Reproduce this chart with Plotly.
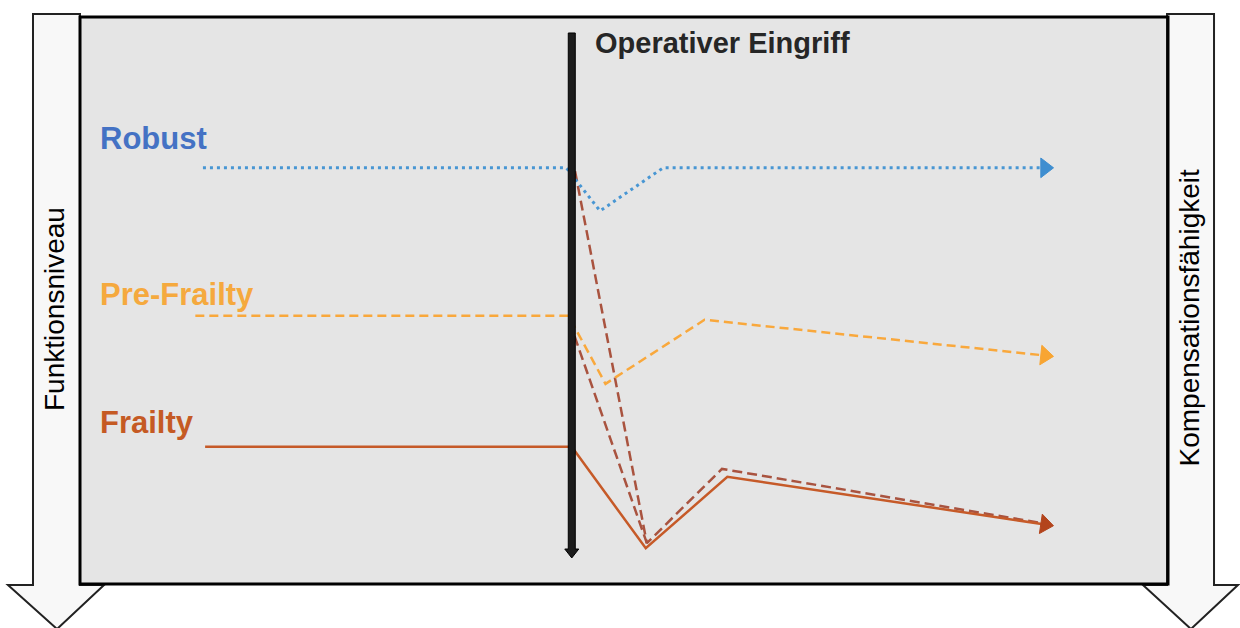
import plotly.graph_objects as go

# Time axis (0-100 across the panel) and functional level (0-100, bottom to top)
SURGERY = 45.2

robust_t = [11.3, 44.7, 47.8, 53.6, 88.7]
robust_level = [73.4, 73.4, 65.8, 73.4, 73.4]

prefrail_t = [10.6, 44.9, 48.3, 57.4, 88.7]
prefrail_level = [47.3, 47.3, 35.3, 46.6, 40.3]

frail_t = [11.5, 45.2, 52.0, 59.5, 88.7]
frail_level = [24.2, 24.2, 6.3, 18.9, 10.5]

# Dashed drop paths: robust start -> low point -> recovery -> frailty course
comp_a_t = [45.5, 52.1, 59.0, 88.2]
comp_a_level = [72.8, 7.2, 20.3, 10.8]
# pre-frailty start -> low point
comp_b_t = [45.0, 52.1]
comp_b_level = [46.2, 7.2]

labels = ["Robust", "Pre-Frailty", "Frailty"]
label_colors = ["#4472C4", "#F5A93E", "#C55A24"]
label_y = [0.786, 0.511, 0.285]

FONT = "Liberation Sans, Arial, sans-serif"

fig = go.Figure()


def end_marker(n, size):
    return [0] * (n - 1) + [size]


fig.add_trace(go.Scatter(
    x=comp_b_t, y=comp_b_level, mode="lines",
    line=dict(color="#A9533F", width=2.5, dash="10px,5px"),
    hoverinfo="skip", showlegend=False))
fig.add_trace(go.Scatter(
    x=comp_a_t, y=comp_a_level, mode="lines",
    line=dict(color="#A9533F", width=2.5, dash="10px,5px"),
    hoverinfo="skip", showlegend=False))

series = [
    (robust_t, robust_level, "#4896D3", "#3F8ED0", 3, "3px,4px"),
    (prefrail_t, prefrail_level, "#F9A83C", "#F8A532", 2.5, "9px,5px"),
    (frail_t, frail_level, "#C65A28", "#B3441C", 2.5, "solid"),
]
for t, level, color, head_color, width, dash in series:
    fig.add_trace(go.Scatter(
        x=t, y=level, mode="lines+markers",
        line=dict(color=color, width=width, dash=dash),
        marker=dict(symbol="triangle-up", angleref="previous", color=head_color,
                    opacity=1, size=end_marker(len(t), 17),
                    line=dict(width=1, color=head_color)),
        hoverinfo="skip", showlegend=False))

shapes = []

# Side arrows (paper coordinates; the panel spans 0..1)
def px_to_paper(px, py):
    return (px - 80) / 1088, (584 - py) / 567


def arrow_path(left, right, head_left, head_right, tip_x):
    pts = [(left, 14), (right, 14), (right, 585), (head_right, 585),
           (tip_x, 629), (head_left, 585), (left, 585)]
    conv = [px_to_paper(a, b) for a, b in pts]
    return "M " + " L ".join(f"{a:.4f},{b:.4f}" for a, b in conv) + " Z"


shapes.append(dict(type="path", xref="paper", yref="paper",
                   path=arrow_path(33, 80, 8, 104, 57),
                   fillcolor="#F8F8F8", line=dict(color="#222222", width=2)))
shapes.append(dict(type="path", xref="paper", yref="paper",
                   path=arrow_path(1167, 1214, 1143, 1238, 1191),
                   fillcolor="#F8F8F8", line=dict(color="#222222", width=2)))

# Panel border
shapes.append(dict(type="rect", xref="paper", yref="paper", x0=0, x1=1, y0=0, y1=1,
                   line=dict(color="#000000", width=3), fillcolor="rgba(0,0,0,0)"))

# Surgery marker: vertical bar with arrow head, anchored at the surgery time
top = 0.9718
head = 0.0617
tip = 0.0459
shapes.append(dict(
    type="path", xref="x", yref="paper", xsizemode="pixel", xanchor=SURGERY,
    path=(f"M -3.5,{top} L 3.5,{top} L 3.5,{head} L 7,{head} L 0,{tip} "
          f"L -7,{head} L -3.5,{head} Z"),
    fillcolor="#1C1C1C", line=dict(color="#000000", width=1), layer="above"))

annotations = [
    dict(text="Operativer Eingriff", xref="paper", yref="paper",
         x=(593 - 80) / 1088, y=0.955, xanchor="left", yanchor="middle",
         showarrow=False, font=dict(family=FONT, size=29, color="#262626", weight="bold")),
    dict(text="Funktionsniveau", xref="paper", yref="paper",
         x=(54 - 80) / 1088, y=0.485, xanchor="center", yanchor="middle",
         textangle=-90, showarrow=False,
         font=dict(family=FONT, size=28, color="#000000")),
    dict(text="Kompensationsfähigkeit", xref="paper", yref="paper",
         x=(1190 - 80) / 1088, y=0.470, xanchor="center", yanchor="middle",
         textangle=-90, showarrow=False,
         font=dict(family=FONT, size=28, color="#000000")),
]
for name, color, yy in zip(labels, label_colors, label_y):
    annotations.append(dict(
        text=name, xref="paper", yref="paper", x=(98 - 80) / 1088, y=yy,
        xanchor="left", yanchor="middle", showarrow=False,
        font=dict(family=FONT, size=31, color=color, weight="bold")))

fig.update_layout(
    width=1240, height=628,
    margin=dict(l=80, r=72, t=17, b=44, pad=0),
    paper_bgcolor="#FFFFFF", plot_bgcolor="#E5E5E5",
    xaxis=dict(range=[0, 100], visible=False, fixedrange=True),
    yaxis=dict(range=[0, 100], visible=False, fixedrange=True),
    shapes=shapes, annotations=annotations,
    showlegend=False,
)

fig.write_html("out.html")
